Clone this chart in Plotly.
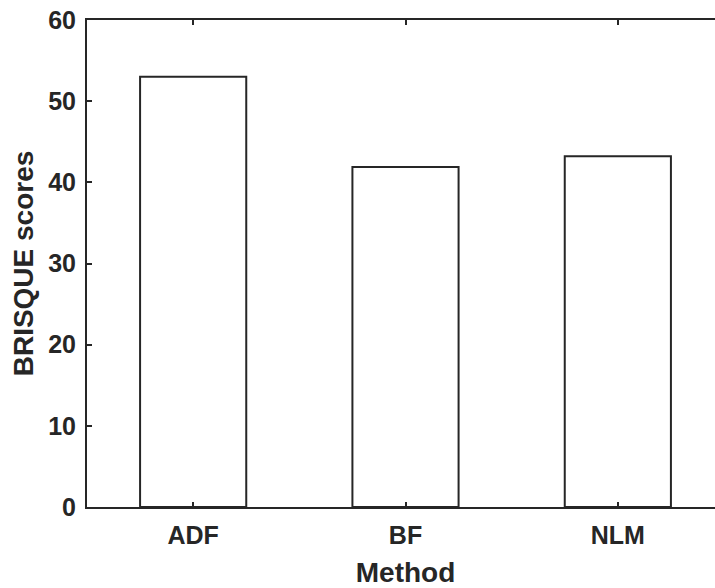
import plotly.graph_objects as go

methods = ["ADF", "BF", "NLM"]
brisque_scores = [53.0, 41.9, 43.2]
y_ticks = [0, 10, 20, 30, 40, 50, 60]

line_col = "#262626"
font_fam = "Liberation Sans, Arial, sans-serif"

fig = go.Figure(
    go.Bar(
        x=methods,
        y=brisque_scores,
        width=0.5,
        marker=dict(color="white", line=dict(color=line_col, width=2)),
    )
)

# the right spine falls just outside the 715px window, as in the reference
fig.update_layout(
    width=738,
    height=588,
    margin=dict(l=87, r=14, t=20, b=81),
    plot_bgcolor="white",
    paper_bgcolor="white",
    showlegend=False,
    font=dict(family=font_fam, color=line_col, size=25, weight="bold"),
)

fig.update_xaxes(
    range=[-0.5, 2.5],
    showline=True,
    linecolor=line_col,
    linewidth=2,
    mirror="ticks",
    ticks="inside",
    ticklen=5,
    tickwidth=2,
    tickcolor=line_col,
    showgrid=False,
    zeroline=False,
    tickfont=dict(size=25, weight="bold"),
    ticklabelstandoff=5,
    title=dict(text="Method", font=dict(size=28, weight="bold"), standoff=15),
    automargin=False,
)

fig.update_yaxes(
    range=[0, 60],
    tickvals=y_ticks,
    showline=True,
    linecolor=line_col,
    linewidth=2,
    mirror="ticks",
    ticks="inside",
    ticklen=5,
    tickwidth=2,
    tickcolor=line_col,
    showgrid=False,
    zeroline=False,
    tickfont=dict(size=25, weight="bold"),
    ticklabelstandoff=4,
    ticklabeloverflow="allow",
    title=dict(text="BRISQUE scores", font=dict(size=28, weight="bold"), standoff=6),
    automargin=False,
)

fig.write_html(
    "out.html",
    config={"displayModeBar": False},
    post_script="document.body.style.margin='0'; document.body.style.overflow='hidden';",
)
